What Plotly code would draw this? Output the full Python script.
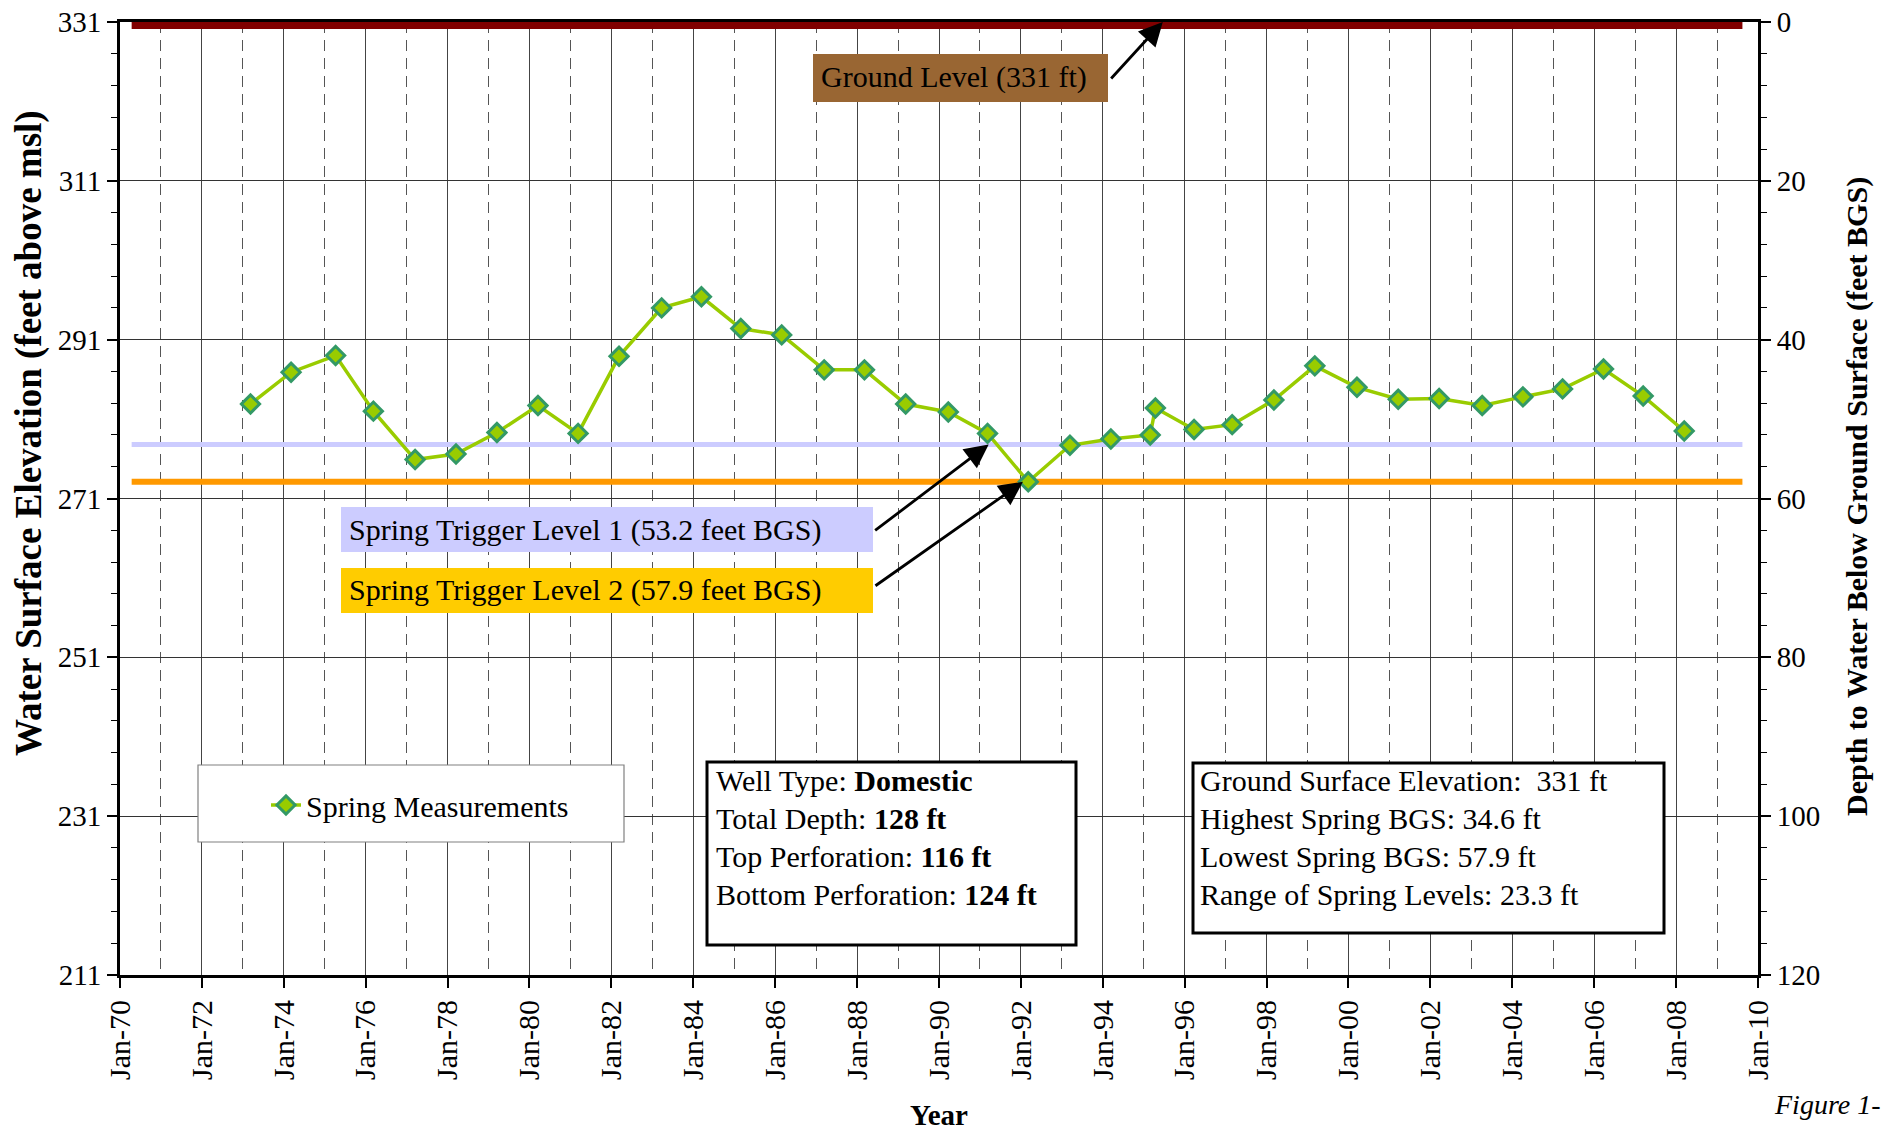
import plotly.graph_objects as go

# ---------------------------------------------------------------- data
GROUND_ELEV = 331  # ground surface elevation, ft above msl

spring_dates = [
    "1973-03-10", "1974-03-07", "1975-04-08", "1976-03-10", "1977-03-17",
    "1978-03-17", "1979-03-17", "1980-03-17", "1981-03-10", "1982-03-10",
    "1983-03-25", "1984-03-14", "1985-02-28", "1986-02-28", "1987-03-14",
    "1988-03-07", "1989-03-10", "1990-03-25", "1991-03-10", "1992-03-07",
    "1993-03-14", "1994-03-14", "1995-02-28", "1995-04-15", "1996-03-25",
    "1997-02-28", "1998-03-07", "1999-03-07", "2000-03-17", "2001-03-20",
    "2002-03-20", "2003-04-08", "2004-04-05", "2005-03-25", "2006-03-25",
    "2007-03-14", "2008-03-14",
]
spring_elev = [
    282.9, 286.9, 289.0, 282.0, 275.9,
    276.6, 279.3, 282.7, 279.2, 288.9,
    295.0, 296.4, 292.4, 291.6, 287.2,
    287.2, 282.9, 281.9, 279.2, 273.1,
    277.7, 278.5, 279.0, 282.4, 279.7,
    280.3, 283.4, 287.7, 285.0, 283.5,
    283.6, 282.7, 283.8, 284.8, 287.3,
    283.9, 279.5,
]

trigger1_bgs = 53.2   # ft below ground surface
trigger2_bgs = 57.9
level_span = ["1970-04-15", "2009-08-15"]

x_range = ["1970-01-01", "2010-01-01"]
elev_range = [211, 331]
depth_range = [120, 0]

well_lines = [
    "Well Type: <b>Domestic</b>",
    "Total Depth: <b>128 ft</b>",
    "Top Perforation: <b>116 ft</b>",
    "Bottom Perforation: <b>124 ft</b>",
]
stats_lines = [
    "Ground Surface Elevation:  331 ft",
    "Highest Spring BGS: 34.6 ft",
    "Lowest Spring BGS: 57.9 ft",
    "Range of Spring Levels: 23.3 ft",
]

# ---------------------------------------------------------------- geometry
W, H = 1885, 1134
ML, MR, MT, MB = 120, 127, 22, 159
PW = W - ML - MR
PH = H - MT - MB


def px_x(x):
    return (x - ML) / PW


def px_y(y):
    return (H - MB - y) / PH


SERIF = "Liberation Serif, Times New Roman, serif"

trigger1_elev = GROUND_ELEV - trigger1_bgs
trigger2_elev = GROUND_ELEV - trigger2_bgs
spring_depth = [GROUND_ELEV - e for e in spring_elev]

fig = go.Figure()

fig.add_trace(go.Scatter(
    x=level_span, y=[GROUND_ELEV] * 2, mode="lines",
    line=dict(color="#800000", width=14), showlegend=False, hoverinfo="skip"))
fig.add_trace(go.Scatter(
    x=level_span, y=[trigger1_elev] * 2, mode="lines",
    line=dict(color="#CCCCFF", width=5), showlegend=False, hoverinfo="skip"))
fig.add_trace(go.Scatter(
    x=level_span, y=[trigger2_elev] * 2, mode="lines",
    line=dict(color="#FF9900", width=6), showlegend=False, hoverinfo="skip"))
fig.add_trace(go.Scatter(
    x=spring_dates, y=spring_elev, mode="lines+markers",
    name="Spring Measurements",
    line=dict(color="#99CC00", width=3.5),
    marker=dict(symbol="diamond", size=14, color="#99CC00",
                line=dict(color="#339966", width=3))))
# depth scale on the right-hand axis
fig.add_trace(go.Scatter(
    x=spring_dates, y=spring_depth, yaxis="y2", mode="lines",
    line=dict(width=0, color="rgba(0,0,0,0)"), showlegend=False,
    hoverinfo="skip"))

# ---------------------------------------------------------------- boxes
shapes = []


def box(x0, y0, x1, y1, fill, line_color=None, line_width=0):
    shapes.append(dict(
        type="rect", xref="paper", yref="paper",
        x0=px_x(x0), x1=px_x(x1), y0=px_y(y1), y1=px_y(y0),
        fillcolor=fill,
        line=dict(color=line_color or fill, width=line_width),
        layer="above"))


box(813, 54, 1108, 102, "#996633")
box(341, 507, 873, 552, "#CCCCFF")
box(341, 568, 873, 613, "#FFCC00")
box(198, 765, 624, 842, "white", "#808080", 1.2)
box(707, 762, 1076, 945, "white", "black", 3)
box(1193, 763, 1664, 933, "white", "black", 3)

annotations = []


def label(text, x, y, size=30, anchor="left", **kw):
    annotations.append(dict(
        text=text, xref="paper", yref="paper", x=px_x(x), y=px_y(y),
        xanchor=anchor, yanchor="middle", showarrow=False,
        font=dict(family=SERIF, size=size, color="black"), **kw))


label("Ground Level (331 ft)", 819, 77)
label("Spring Trigger Level 1 (53.2 feet BGS)", 347, 530)
label("Spring Trigger Level 2 (57.9 feet BGS)", 347, 590)

for i, t in enumerate(well_lines):
    label(t, 714, 780 + i * 38.3)
for i, t in enumerate(stats_lines):
    label(t, 1198, 780 + i * 38.0)

# axis titles
label("<b>Water Surface Elevation (feet above msl)</b>", 29, 433,
      size=37, anchor="center", textangle=-90)
label("<b>Depth to Water Below Ground Surface (feet BGS)</b>", 1857, 497,
      size=30, anchor="center", textangle=-90)
label("<b>Year</b>", 939, 1115, size=29, anchor="center")
label("<i>Figure 1-</i>", 1772, 1104, size=28)

# arrows pointing to the reference levels
for xd, yv, ax, ay in [
    ("1995-06-20", GROUND_ELEV, -53, 58),
    ("1991-03-20", trigger1_elev, -115, 87),
    ("1992-01-20", trigger2_elev, -149, 105),
]:
    annotations.append(dict(
        x=xd, y=yv, xref="x", yref="y", text="", showarrow=True,
        ax=ax, ay=ay, arrowhead=2, arrowsize=1.7, arrowwidth=2.8,
        arrowcolor="black", standoff=0))

# ---------------------------------------------------------------- layout
fig.update_layout(
    width=W, height=H,
    margin=dict(l=ML, r=MR, t=MT, b=MB, autoexpand=False),
    paper_bgcolor="white", plot_bgcolor="white",
    font=dict(family=SERIF, color="black"),
    shapes=shapes, annotations=annotations,
    legend=dict(x=px_x(266), y=px_y(805), xanchor="left", yanchor="middle",
                bgcolor="rgba(0,0,0,0)", borderwidth=0,
                font=dict(family=SERIF, size=30)),
    xaxis=dict(
        type="date", range=x_range, tick0="1970-01-01", dtick="M24",
        tickformat="%b-%y", tickangle=-90, tickfont=dict(size=30),
        ticks="outside", ticklen=10, tickwidth=1.5, tickcolor="black",
        showline=True, linecolor="black", linewidth=3, mirror=True,
        showgrid=True, gridcolor="#444444", gridwidth=1.3, zeroline=False,
        automargin=False,
        minor=dict(dtick="M12", tick0="1970-01-01", ticks="", showgrid=True,
                   gridcolor="#555555", gridwidth=1.3, griddash="11px,7px"),
    ),
    yaxis=dict(
        range=elev_range, tick0=211, dtick=20, tickfont=dict(size=29),
        ticks="outside", ticklen=10, tickwidth=1.5, tickcolor="black",
        showline=True, linecolor="black", linewidth=3, automargin=False,
        showgrid=True, gridcolor="#333333", gridwidth=1.3, zeroline=False,
        minor=dict(dtick=4, tick0=211, ticks="outside", ticklen=6,
                   tickcolor="black", tickwidth=1.2, showgrid=False),
    ),
    yaxis2=dict(
        overlaying="y", side="right", anchor="x",
        range=depth_range, tick0=0, dtick=20, tickfont=dict(size=29),
        ticks="outside", ticklen=10, tickwidth=1.5, tickcolor="black",
        showline=True, linecolor="black", linewidth=3, automargin=False,
        showgrid=False, zeroline=False,
        minor=dict(dtick=4, tick0=0, ticks="outside", ticklen=6,
                   tickcolor="black", tickwidth=1.2, showgrid=False),
    ),
)

fig.write_html("out.html")
